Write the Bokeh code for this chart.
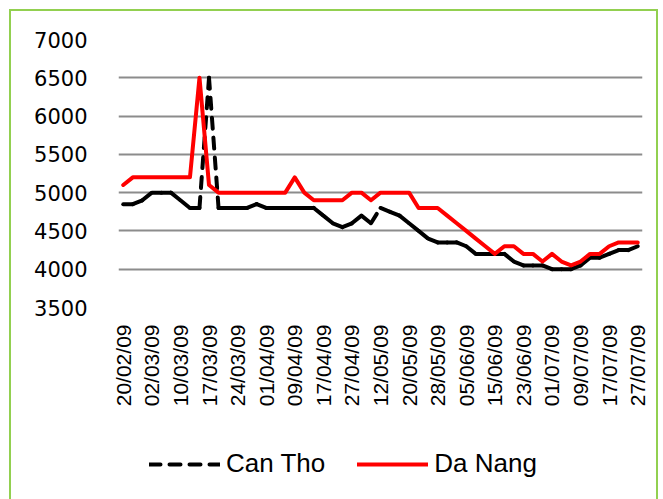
import math
from bokeh.plotting import figure
from bokeh.layouts import column
from bokeh.models import (FixedTicker, Legend, LegendItem,
                          ColumnDataSource, Range1d)
from bokeh.embed import file_html
from bokeh.resources import INLINE

# ---- data -------------------------------------------------------------
tick_labels = ["20/02/09", "02/03/09", "10/03/09", "17/03/09", "24/03/09",
               "01/04/09", "09/04/09", "17/04/09", "27/04/09", "12/05/09",
               "20/05/09", "28/05/09", "05/06/09", "15/06/09", "23/06/09",
               "01/07/09", "09/07/09", "17/07/09", "27/07/09"]
label_step = 3  # one label every 3 observations

can_tho = [4850, 4850, 4900, 5000, 5000, 5000, 4900, 4800, 4800, 6500,
           4800, 4800, 4800, 4800, 4850, 4800, 4800, 4800, 4800, 4800,
           4800, 4700, 4600, 4550, 4600, 4700, 4600, 4800, 4750, 4700,
           4600, 4500, 4400, 4350, 4350, 4350, 4300, 4200, 4200, 4200,
           4200, 4100, 4050, 4050, 4050, 4000, 4000, 4000, 4050, 4150,
           4150, 4200, 4250, 4250, 4300]

da_nang = [5100, 5200, 5200, 5200, 5200, 5200, 5200, 5200, 6500, 5100,
           5000, 5000, 5000, 5000, 5000, 5000, 5000, 5000, 5200, 5000,
           4900, 4900, 4900, 4900, 5000, 5000, 4900, 5000, 5000, 5000,
           5000, 4800, 4800, 4800, 4700, 4600, 4500, 4400, 4300, 4200,
           4300, 4300, 4200, 4200, 4100, 4200, 4100, 4050, 4100, 4200,
           4200, 4300, 4350, 4350, 4350]

y_ticks = [3500, 4000, 4500, 5000, 5500, 6000, 6500, 7000]

series_names = ["Can Tho", "Da Nang"]

# ---- styles -----------------------------------------------------------
CT_STYLE = dict(line_color="black", line_width=4, line_dash="11 9",
                line_cap="round", line_join="round")
DN_STYLE = dict(line_color="#ff0000", line_width=4,
                line_cap="round", line_join="round")

# ---- main figure ------------------------------------------------------
n = len(can_tho)
idx = list(range(n))

W, H = 645, 420
p = figure(width=W, height=H, output_backend="svg", toolbar_location=None,
           x_range=Range1d(-0.5, n - 0.5), y_range=Range1d(3500, 7000),
           min_border_left=107, min_border_right=14,
           min_border_top=28, min_border_bottom=124)
p.outline_line_color = None
p.background_fill_color = "white"
p.border_fill_color = "white"

p.yaxis.ticker = FixedTicker(ticks=y_ticks)
p.yaxis.axis_line_color = None
p.yaxis.major_tick_line_color = None
p.yaxis.minor_tick_line_color = None
p.yaxis.major_label_standoff = 25
p.yaxis.major_label_text_font = "DejaVu Sans"
p.yaxis.major_label_text_font_size = "21px"
p.yaxis.major_label_text_color = "black"

xt = [i * label_step for i in range(len(tick_labels))]
p.xaxis.ticker = FixedTicker(ticks=xt)
p.xaxis.major_label_overrides = {t: lab for t, lab in zip(xt, tick_labels)}
p.xaxis.major_label_orientation = math.pi / 2
p.xaxis.axis_line_color = None
p.xaxis.major_tick_line_color = None
p.xaxis.minor_tick_line_color = None
p.xaxis.major_label_standoff = 11
p.xaxis.major_label_text_font = "Liberation Sans"
p.xaxis.major_label_text_font_size = "21px"
p.xaxis.major_label_text_color = "black"

p.xgrid.grid_line_color = None
p.ygrid.ticker = FixedTicker(ticks=y_ticks)
p.ygrid.grid_line_color = "#8c8c8c"
p.ygrid.grid_line_width = 2

# Can Tho: dashed, drawn segment by segment (dash restarts each segment)
seg = ColumnDataSource(dict(
    xs=[[idx[i], idx[i + 1]] for i in range(n - 1)],
    ys=[[can_tho[i], can_tho[i + 1]] for i in range(n - 1)],
))
p.multi_line("xs", "ys", source=seg, **CT_STYLE)
p.line(idx, da_nang, **DN_STYLE)

# ---- legend strip (series drawn out of view, only their legend shows) --
LH = 68
pl = figure(width=W, height=LH, output_backend="svg", toolbar_location=None,
            x_range=Range1d(-0.5, n - 0.5), y_range=Range1d(0, 1),
            x_axis_type=None, y_axis_type=None, min_border=0)
pl.outline_line_color = None
pl.grid.grid_line_color = None
pl.background_fill_color = "white"
pl.border_fill_color = "white"
lr_ct = pl.multi_line("xs", "ys", source=seg, **CT_STYLE)
lr_dn = pl.line(idx, da_nang, **DN_STYLE)

legend = Legend(items=[LegendItem(label=series_names[0], renderers=[lr_ct]),
                       LegendItem(label=series_names[1], renderers=[lr_dn])],
                orientation="horizontal", location=(31, 20))
legend.glyph_width = 71
legend.glyph_height = 30
legend.label_standoff = 6
legend.spacing = 32
legend.padding = 0
legend.margin = 0
legend.border_line_color = None
legend.background_fill_alpha = 0
legend.label_text_font = "Liberation Sans"
legend.label_text_font_size = "26px"
legend.label_text_color = "black"
pl.add_layout(legend, "center")

layout = column(p, pl, spacing=0)
layout.margin = (9, 0, 0, 9)
layout.styles = {"border-left": "2px solid #92d050",
                 "border-top": "2px solid #92d050",
                 "border-right": "2px solid #92d050"}

open("out.html", "w").write(file_html(layout, INLINE))
